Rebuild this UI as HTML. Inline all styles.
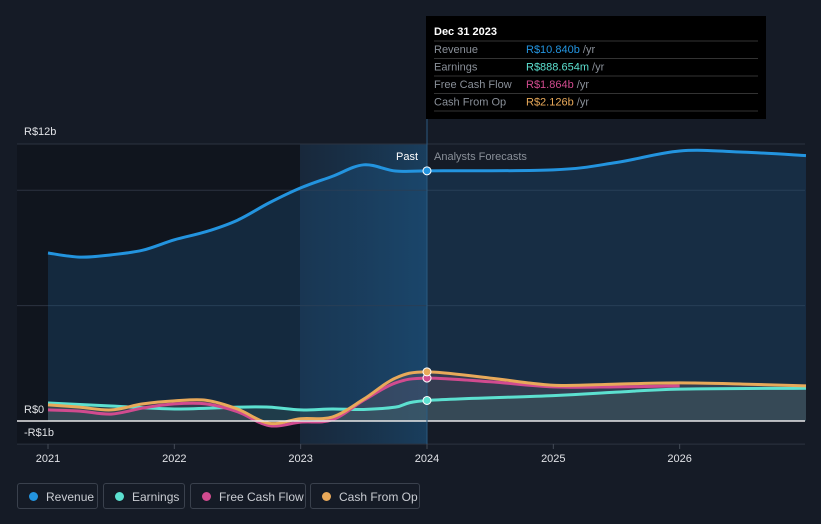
<!DOCTYPE html>
<html><head><meta charset="utf-8"><style>
body{margin:0;background:#151b26;font-family:"Liberation Sans",sans-serif;}
svg{display:block}
.leg{position:absolute;top:483px;height:26px;border:1px solid #3a414d;border-radius:3px;color:#c9ccd2;font-size:12px;line-height:26px;box-sizing:border-box;padding-left:28px}
.leg i{position:absolute;left:11px;top:8px;width:9px;height:9px;border-radius:50%}
</style></head><body>
<div style="position:relative;width:821px;height:524px;overflow:hidden">
<svg id="c" width="821" height="524"></svg>
<div class="leg" style="left:17px;width:81px"><i style="background:#2394df"></i>Revenue</div>
<div class="leg" style="left:103px;width:82px"><i style="background:#5ce0d0"></i>Earnings</div>
<div class="leg" style="left:190px;width:116px"><i style="background:#d14b8f"></i>Free Cash Flow</div>
<div class="leg" style="left:310px;width:110px"><i style="background:#e8a95a"></i>Cash From Op</div>
</div>
<script>
const revX=[2021,2021.25,2021.5,2021.75,2022,2022.25,2022.5,2022.75,2023,2023.25,2023.5,2023.75,2024,2025,2025.5,2026,2026.5,2027];
const revenue=[7.28,7.1,7.2,7.4,7.85,8.2,8.7,9.45,10.1,10.6,11.1,10.83,10.84,10.88,11.2,11.7,11.65,11.5];
const earnX=[2021,2021.5,2022,2022.5,2022.75,2023,2023.25,2023.5,2023.75,2024,2025,2025.5,2026,2027];
const earnings=[0.78,0.65,0.52,0.6,0.6,0.48,0.52,0.5,0.6,0.89,1.1,1.25,1.38,1.42];
const fcfX=[2021,2021.25,2021.5,2021.75,2022,2022.25,2022.5,2022.75,2023,2023.25,2023.5,2023.75,2024,2024.5,2025,2025.5,2026];
const fcf=[0.48,0.43,0.3,0.56,0.74,0.74,0.4,-0.2,-0.05,0.05,0.9,1.65,1.86,1.7,1.48,1.48,1.52];
const cfoX=[2021,2021.25,2021.5,2021.75,2022,2022.25,2022.5,2022.75,2023,2023.25,2023.5,2023.75,2024,2024.5,2025,2025.5,2026,2026.5,2027];
const cfo=[0.7,0.6,0.48,0.74,0.87,0.9,0.52,-0.1,0.1,0.17,0.95,1.86,2.13,1.86,1.55,1.6,1.65,1.6,1.52];
const yearTicks=[2021,2022,2023,2024,2025,2026];
const yLabels=[[12,"R$12b"],[0,"R$0"],[-1,"-R$1b"]];
const grid=[12,10,5,-1];
const X=t=>48+(t-2021)*126.33, Y=v=>421-v*23.08;
const svg=document.getElementById('c'),NS='http://www.w3.org/2000/svg';
function el(n,a,p){const e=document.createElementNS(NS,n);for(const k in a)e.setAttribute(k,a[k]);(p||svg).appendChild(e);return e;}
function path(xs,vs){const p=xs.map((x,i)=>[X(x),Y(vs[i])]);let d='M'+p[0];for(let i=0;i<p.length-1;i++){const a=p[i-1]||p[i],b=p[i],c=p[i+1],e=p[i+2]||c;const c1=[b[0]+(c[0]-a[0])/6,b[1]+(c[1]-a[1])/6],c2=[c[0]-(e[0]-b[0])/6,c[1]-(e[1]-b[1])/6];d+='C'+c1+' '+c2+' '+c;}return d;}
const defs=el('defs',{});
const g=el('linearGradient',{id:'pg',x1:0,x2:1,y1:0,y2:0},defs);
el('stop',{offset:0,'stop-color':'#1a3550','stop-opacity':0.5},g);el('stop',{offset:1,'stop-color':'#1b4a70','stop-opacity':0.75},g);
let r=el('rect',{x:17,y:144,width:283,height:300,fill:'#10151e'});
r=el('rect',{x:300,y:144,width:127,height:300,fill:'url(#pg)'});
grid.forEach(v=>{const l=el('line',{x1:17,x2:805,y1:Y(v),y2:Y(v),stroke:'#2c3340','stroke-width':1});});
const area=(xs,vs,fill,op,name)=>{const a=el('path',{d:path(xs,vs)+`L${X(xs[xs.length-1])},${Y(0)}L${X(xs[0])},${Y(0)}Z`,fill:fill,'fill-opacity':op});};
area(revX,revenue,'#1f5a8a',0.3,'revenue-area');
area(cfoX,cfo,'#6a5a66',0.35,'cashflow-area');
area(earnX,earnings,'#3a6a66',0.3,'earnings-area');
const line=(xs,vs,col,name)=>{const l=el('path',{d:path(xs,vs),fill:'none',stroke:col,'stroke-width':3});};
line(earnX,earnings,'#5ce0d0','earnings-line');
line(fcfX,fcf,'#d14b8f','fcf-line');
line(cfoX,cfo,'#e8a95a','cfo-line');
line(revX,revenue,'#2394df','revenue-line');
let z=el('line',{x1:17,x2:805,y1:Y(0),y2:Y(0),stroke:'#e8e8e8','stroke-width':1.5});
let vl=el('line',{x1:427,x2:427,y1:119,y2:444,stroke:'#2a5a80','stroke-width':1});
[[revenue,revX,'#2394df'],[earnings,earnX,'#5ce0d0'],[fcf,fcfX,'#d14b8f'],[cfo,cfoX,'#e8a95a']].forEach(([v,xs,c])=>{const i=xs.indexOf(2024);const d=el('circle',{cx:X(2024),cy:Y(v[i]),r:4,fill:c,stroke:'#fff','stroke-width':1});});
yearTicks.forEach(t=>{const l=el('line',{x1:X(t),x2:X(t),y1:444,y2:449,stroke:'#444b57'});const tx=el('text',{x:X(t),y:462,fill:'#e0e2e6','font-size':11,'text-anchor':'middle'});tx.textContent=t;});
yLabels.forEach(([v,s])=>{const tx=el('text',{x:24,y:Y(v)-(v==12?9:v==0?8:8),fill:'#e0e2e6','font-size':11});tx.textContent=s;});
let t=el('text',{x:418,y:160,fill:'#fff','font-size':11,'text-anchor':'end'});t.textContent='Past';
t=el('text',{x:434,y:160,fill:'#8a9099','font-size':11});t.textContent='Analysts Forecasts';
const tg=el('g',{});
el('rect',{x:426,y:16,width:340,height:103,fill:'#000'},tg);
t=el('text',{x:434,y:35,fill:'#fff','font-size':11,'font-weight':'bold'},tg);t.textContent='Dec 31 2023';
const rows=[['Revenue','R$10.840b','#2394df'],['Earnings','R$888.654m','#5ce0d0'],['Free Cash Flow','R$1.864b','#d14b8f'],['Cash From Op','R$2.126b','#e8a95a']];
rows.forEach((rw,i)=>{const y=53+i*17.5;el('line',{x1:434,x2:758,y1:y-12,y2:y-12,stroke:'#333'},tg);
let a=el('text',{x:434,y:y,fill:'#8a9099','font-size':11},tg);a.textContent=rw[0];
a=el('text',{x:526,y:y,fill:rw[2],'font-size':11},tg);a.textContent=rw[1];const ts=el('tspan',{fill:'#8a9099'},a);ts.textContent=' /yr';});
el('line',{x1:434,x2:758,y1:111,y2:111,stroke:'#333'},tg);
</script>
</body></html>
